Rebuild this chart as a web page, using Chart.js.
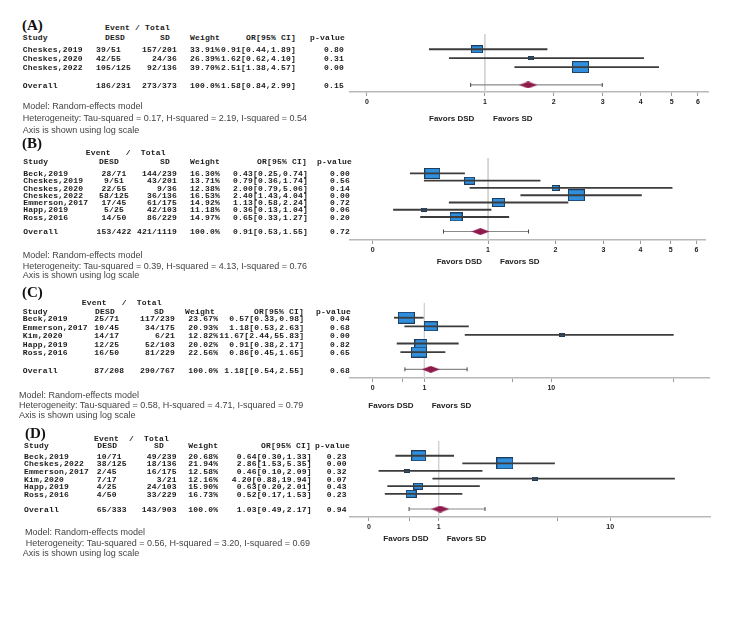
<!DOCTYPE html>
<html>
<head>
<meta charset="utf-8">
<script src="https://cdn.jsdelivr.net/npm/chart.js@4.4.1/dist/chart.umd.min.js"></script>
<style>
  body { margin: 0; background: #fff; }
  #page { position: relative; width: 752px; height: 621px; overflow: hidden; background: #fff; }
  .t { position: absolute; white-space: pre; line-height: 10px; }
  .mono { font: bold 8px "Liberation Mono", monospace; letter-spacing: 0.2px; color: #1b1b1b; }
  .note { font: 9px "Liberation Sans", Arial, sans-serif; color: #444; }
  .fav { font: bold 8px "Liberation Sans", Arial, sans-serif; color: #222; }
  .lab { font: bold 15px "Liberation Serif", serif; color: #111; line-height: 16px; }
  canvas { position: absolute; }
</style>
</head>
<body>
<div id="page"></div>
<script>
// panel A
const aStudies = ['Cheskes,2019', 'Cheskes,2020', 'Cheskes,2022'];
const aDesd = ['39/51', '42/55', '105/125'];
const aSd = ['157/201', '24/36', '92/136'];
const aWeight = [33.91, 26.39, 39.70];
const aOr = [0.91, 1.62, 2.51];
const aLo = [0.44, 0.62, 1.38];
const aHi = [1.89, 4.10, 4.57];
const aP = ['0.80', '0.31', '0.00'];
const aOverall = ['186/231', '273/373', '100.0%', '1.58[0.84,2.99]', '0.15'];
const aPooled = [1.58, 0.84, 2.99];
const aTicks = [0, 1, 2, 3, 4, 5, 6];
const aTickLabels = ['0', '1', '2', '3', '4', '5', '6'];
const aNotes = ['Model: Random-effects model', 'Heterogeneity: Tau-squared = 0.17, H-squared = 2.19, I-squared = 0.54', 'Axis is shown using log scale'];

// panel B
const bStudies = ['Beck,2019', 'Cheskes,2019', 'Cheskes,2020', 'Cheskes,2022', 'Emmerson,2017', 'Happ,2019', 'Ross,2016'];
const bDesd = ['28/71', '9/51', '22/55', '58/125', '17/45', '5/25', '14/50'];
const bSd = ['144/239', '43/201', '9/36', '36/136', '61/175', '42/103', '86/229'];
const bWeight = [16.30, 13.71, 12.38, 16.53, 14.92, 11.18, 14.97];
const bOr = [0.43, 0.79, 2.00, 2.40, 1.13, 0.36, 0.65];
const bLo = [0.25, 0.36, 0.79, 1.43, 0.58, 0.13, 0.33];
const bHi = [0.74, 1.74, 5.06, 4.04, 2.24, 1.04, 1.27];
const bP = ['0.00', '0.56', '0.14', '0.00', '0.72', '0.06', '0.20'];
const bOverall = ['153/422', '421/1119', '100.0%', '0.91[0.53,1.55]', '0.72'];
const bPooled = [0.91, 0.53, 1.55];
const bTicks = [0, 1, 2, 3, 4, 5, 6];
const bTickLabels = ['0', '1', '2', '3', '4', '5', '6'];
const bNotes = ['Model: Random-effects model', 'Heterogeneity: Tau-squared = 0.39, H-squared = 4.13, I-squared = 0.76', 'Axis is shown using log scale'];

// panel C
const cStudies = ['Beck,2019', 'Emmerson,2017', 'Kim,2020', 'Happ,2019', 'Ross,2016'];
const cDesd = ['25/71', '10/45', '14/17', '12/25', '16/50'];
const cSd = ['117/239', '34/175', '6/21', '52/103', '81/229'];
const cWeight = [23.67, 20.93, 12.82, 20.02, 22.56];
const cOr = [0.57, 1.18, 11.67, 0.91, 0.86];
const cLo = [0.33, 0.53, 2.44, 0.38, 0.45];
const cHi = [0.98, 2.63, 55.83, 2.17, 1.65];
const cP = ['0.04', '0.68', '0.00', '0.82', '0.65'];
const cOverall = ['87/208', '290/767', '100.0%', '1.18[[0.54,2.55]', '0.68'];
const cPooled = [1.18, 0.54, 2.55];
const cTicks = [0, 0.5, 1, 5.5, 10, 55.5];
const cTickLabels = ['0', '', '1', '', '10', ''];
const cNotes = ['Model: Random-effects model', 'Heterogeneity: Tau-squared = 0.58, H-squared = 4.71, I-squared = 0.79', 'Axis is shown using log scale'];

// panel D
const dStudies = ['Beck,2019', 'Cheskes,2022', 'Emmerson,2017', 'Kim,2020', 'Happ,2019', 'Ross,2016'];
const dDesd = ['10/71', '38/125', '2/45', '7/17', '4/25', '4/50'];
const dSd = ['49/239', '18/136', '16/175', '3/21', '24/103', '33/229'];
const dWeight = [20.68, 21.94, 12.58, 12.16, 15.90, 16.73];
const dOr = [0.64, 2.86, 0.46, 4.20, 0.63, 0.52];
const dLo = [0.30, 1.53, 0.10, 0.88, 0.20, 0.17];
const dHi = [1.33, 5.35, 2.09, 19.94, 2.01, 1.53];
const dP = ['0.23', '0.00', '0.32', '0.07', '0.43', '0.23'];
const dOverall = ['65/333', '143/903', '100.0%', '1.03[0.49,2.17]', '0.94'];
const dPooled = [1.03, 0.49, 2.17];
const dTicks = [0, 0.5, 1, 5.5, 10];
const dTickLabels = ['0', '', '1', '', '10'];
const dNotes = ['Model: Random-effects model', ' Heterogeneity: Tau-squared = 0.56, H-squared = 3.20, I-squared = 0.69', 'Axis is shown using log scale'];

const headers = ['Study', 'DESD', 'SD', 'Weight', 'OR[95% CI]', 'p-value'];
const favors = ['Favors DSD', 'Favors SD'];

// the forest axis is log(1 + x)
class Log1pScale extends Chart.LinearScale {
  getPixelForValue(value) {
    const a = Math.log1p(this.min), b = Math.log1p(this.max);
    return this.getPixelForDecimal((Math.log1p(value) - a) / (b - a));
  }
  getValueForPixel(pixel) {
    const a = Math.log1p(this.min), b = Math.log1p(this.max);
    return Math.expm1(a + this.getDecimalForPixel(pixel) * (b - a));
  }
}
Log1pScale.id = 'log1p';
Log1pScale.defaults = Chart.LinearScale.defaults;
Chart.register(Log1pScale);

const page = document.getElementById('page');

function put(text, x, y, cls, align) {
  const el = document.createElement('div');
  el.className = 't ' + cls;
  el.textContent = text;
  el.style.left = x + 'px';
  el.style.top = y + 'px';
  const tx = align === 'r' ? '-100%' : align === 'c' ? '-50%' : '0';
  el.style.transform = 'translate(' + tx + ',-50%)';
  page.appendChild(el);
}

function boxImage(w, h, fill, stroke) {
  const c = document.createElement('canvas');
  c.width = Math.round(w);
  c.height = Math.round(h);
  const g = c.getContext('2d');
  g.fillStyle = fill;
  g.fillRect(0, 0, c.width, c.height);
  g.strokeStyle = stroke;
  g.lineWidth = 1;
  g.strokeRect(0.5, 0.5, c.width - 1, c.height - 1);
  return c;
}

function diamondImage(w, h) {
  const c = document.createElement('canvas');
  c.width = w; c.height = h;
  const g = c.getContext('2d');
  g.fillStyle = '#8e1b4c';
  g.beginPath();
  g.moveTo(0, h / 2); g.lineTo(w / 2, 0); g.lineTo(w, h / 2); g.lineTo(w / 2, h);
  g.closePath();
  g.fill();
  return c;
}

const panels = [
  { label: '(A)', studies: aStudies, desd: aDesd, sd: aSd, weight: aWeight, or: aOr, lo: aLo, hi: aHi, p: aP,
    overall: aOverall, pooled: aPooled, ticks: aTicks, tickLabels: aTickLabels, notes: aNotes,
    top: 29, bottom: 91.7, right: 708, xMin: -0.095, xMax: 6.43, yMin: -1.71, yMax: 4.79,
    labelPos: [22, 25], eventText: 'Event / Total', eventPos: [105, 27], headY: 36.5,
    cols: [[22.7, 'l'], [96, 'l'], [177, 'r'], [190, 'l'], [296, 'r'], [344, 'r']],
    heads: [[22.7, 'l'], [105, 'l'], [165, 'c'], [190, 'l'], [296, 'r'], [345, 'r']],
    noteX: [22.7, 22.7, 22.7], noteY: [105.5, 117.7, 130], favX: [429, 493], favY: 118 },
  { label: '(B)', studies: bStudies, desd: bDesd, sd: bSd, weight: bWeight, or: bOr, lo: bLo, hi: bHi, p: bP,
    overall: bOverall, pooled: bPooled, ticks: bTicks, tickLabels: bTickLabels, notes: bNotes,
    top: 152.7, bottom: 239.3, right: 705, xMin: -0.128, xMax: 6.37, yMin: -2.13, yMax: 9.17,
    labelPos: [22, 143.3], eventText: 'Event   /  Total', eventPos: [85.7, 152.3], headY: 161,
    cols: [[23.3, 'l'], [114, 'c'], [177, 'r'], [190, 'l'], [308, 'r'], [350, 'r']],
    heads: [[23.3, 'l'], [99, 'l'], [165, 'c'], [190, 'l'], [307, 'r'], [352, 'r']],
    noteX: [22.7, 22.7, 22.7], noteY: [255, 265.7, 275], favX: [436.7, 500], favY: 261 },
  { label: '(C)', studies: cStudies, desd: cDesd, sd: cSd, weight: cWeight, or: cOr, lo: cLo, hi: cHi, p: cP,
    overall: cOverall, pooled: cPooled, ticks: cTicks, tickLabels: cTickLabels, notes: cNotes,
    top: 298.3, bottom: 378.3, right: 709, xMin: -0.263, xMax: 90.3, yMin: -1.71, yMax: 7.01,
    labelPos: [22, 292.3], eventText: 'Event   /  Total', eventPos: [81.7, 302.3], headY: 310.7,
    cols: [[22.7, 'l'], [94.3, 'l'], [175, 'r'], [188.3, 'l'], [304.3, 'r'], [350, 'r']],
    heads: [[22.7, 'l'], [95, 'l'], [159, 'c'], [185, 'l'], [304, 'r'], [351, 'r']],
    noteX: [19, 19, 19], noteY: [395, 405, 414.5], favX: [368.3, 431.7], favY: 405 },
  { label: '(D)', studies: dStudies, desd: dDesd, sd: dSd, weight: dWeight, or: dOr, lo: dLo, hi: dHi, p: dP,
    overall: dOverall, pooled: dPooled, ticks: dTicks, tickLabels: dTickLabels, notes: dNotes,
    top: 436, bottom: 516.7, right: 710.7, xMin: -0.172, xMax: 28.9, yMin: -1.94, yMax: 8.05,
    labelPos: [25, 433], eventText: 'Event  /  Total', eventPos: [94, 438], headY: 445,
    cols: [[24, 'l'], [96.7, 'l'], [176.7, 'r'], [188.3, 'l'], [311.7, 'r'], [346.7, 'r']],
    heads: [[24, 'l'], [97.3, 'l'], [159, 'c'], [188.3, 'l'], [311, 'r'], [350, 'r']],
    noteX: [25, 23.3, 22.7], noteY: [532, 542.5, 553], favX: [383.3, 446.7], favY: 538 }
];

panels.forEach(p => {
  const n = p.studies.length;
  const canvasLeft = 340;
  const axisH = 22;
  const cv = document.createElement('canvas');
  cv.width = 380;
  cv.height = Math.round(p.bottom - p.top) + axisH;
  cv.style.left = canvasLeft + 'px';
  cv.style.top = p.top + 'px';
  cv.style.width = cv.width + 'px';
  cv.style.height = cv.height + 'px';
  page.appendChild(cv);

  // box size grows with the study weight
  const wMin = Math.min(...p.weight), wMax = Math.max(...p.weight);
  const boxes = p.weight.map(w => {
    const bw = 5.7 + 11 * (w - wMin) / (wMax - wMin);
    return boxImage(bw, bw * 0.7, '#2f8fdc', '#1d3c5e');
  });

  const datasets = [];
  datasets.push({
    data: [{ x: p.pooled[0], y: n + 1 }],
    pointStyle: diamondImage(18, 7), pointRadius: 4
  });
  p.studies.forEach((s, i) => {
    datasets.push({
      data: [{ x: p.lo[i], y: i }, { x: p.hi[i], y: i }],
      showLine: true, borderColor: '#3c3c3c', borderWidth: 1.8, pointRadius: 0
    });
  });
  datasets.push({
    data: [{ x: p.pooled[1], y: n + 1 }, { x: p.pooled[2], y: n + 1 }],
    showLine: true, borderColor: '#8a8a8a', borderWidth: 1.2,
    pointStyle: 'line', rotation: 90, pointRadius: 2, pointBorderColor: '#444', pointBorderWidth: 1
  });
  datasets.push({
    data: p.or.map((v, i) => ({ x: v, y: i })),
    pointStyle: boxes, pointRadius: 4
  });
  datasets.push({
    data: [{ x: 1, y: p.yMin }, { x: 1, y: p.yMax }],
    showLine: true, borderColor: '#d2d2d2', borderWidth: 1, pointRadius: 0
  });

  const chart = new Chart(cv, {
    type: 'scatter',
    data: { datasets: datasets },
    options: {
      responsive: false,
      animation: false,
      events: [],
      layout: { padding: { left: 10, right: canvasLeft + cv.width - p.right, top: 0, bottom: 0 } },
      plugins: { legend: { display: false }, tooltip: { enabled: false } },
      scales: {
        x: {
          type: 'log1p',
          min: p.xMin,
          max: p.xMax,
          bounds: 'data',
          afterBuildTicks: s => { s.ticks = p.ticks.map(v => ({ value: v })); },
          afterFit: s => { s.height = axisH; },
          ticks: {
            callback: (v, i) => p.tickLabels[i],
            autoSkip: false, maxRotation: 0, padding: 2,
            color: '#222', font: { family: 'Liberation Sans', size: 7, weight: 'bold' }
          },
          grid: { drawOnChartArea: false, tickLength: 4, color: '#9a9a9a' },
          border: { color: '#b8b8b8', width: 1.5 }
        },
        y: { type: 'linear', reverse: true, min: p.yMin, max: p.yMax, display: false }
      }
    }
  });

  // table rows follow the chart's rows
  const rowY = i => p.top + chart.scales.y.getPixelForValue(i);
  put(p.label, p.labelPos[0], p.labelPos[1], 'lab', 'l');
  put(p.eventText, p.eventPos[0], p.eventPos[1], 'mono', 'l');
  headers.forEach((h, k) => put(h, p.heads[k][0], p.headY, 'mono', p.heads[k][1]));
  p.studies.forEach((s, i) => {
    const cells = [s, p.desd[i], p.sd[i], p.weight[i].toFixed(2) + '%',
      p.or[i].toFixed(2) + '[' + p.lo[i].toFixed(2) + ',' + p.hi[i].toFixed(2) + ']', p.p[i]];
    cells.forEach((c, k) => put(c, p.cols[k][0], rowY(i), 'mono', p.cols[k][1]));
  });
  ['Overall'].concat(p.overall).forEach((c, k) => put(c, p.cols[k][0], rowY(n + 1), 'mono', p.cols[k][1]));
  p.notes.forEach((t, k) => put(t, p.noteX[k], p.noteY[k], 'note', 'l'));
  favors.forEach((t, k) => put(t, p.favX[k], p.favY, 'fav', 'l'));
});
</script>
</body>
</html>
